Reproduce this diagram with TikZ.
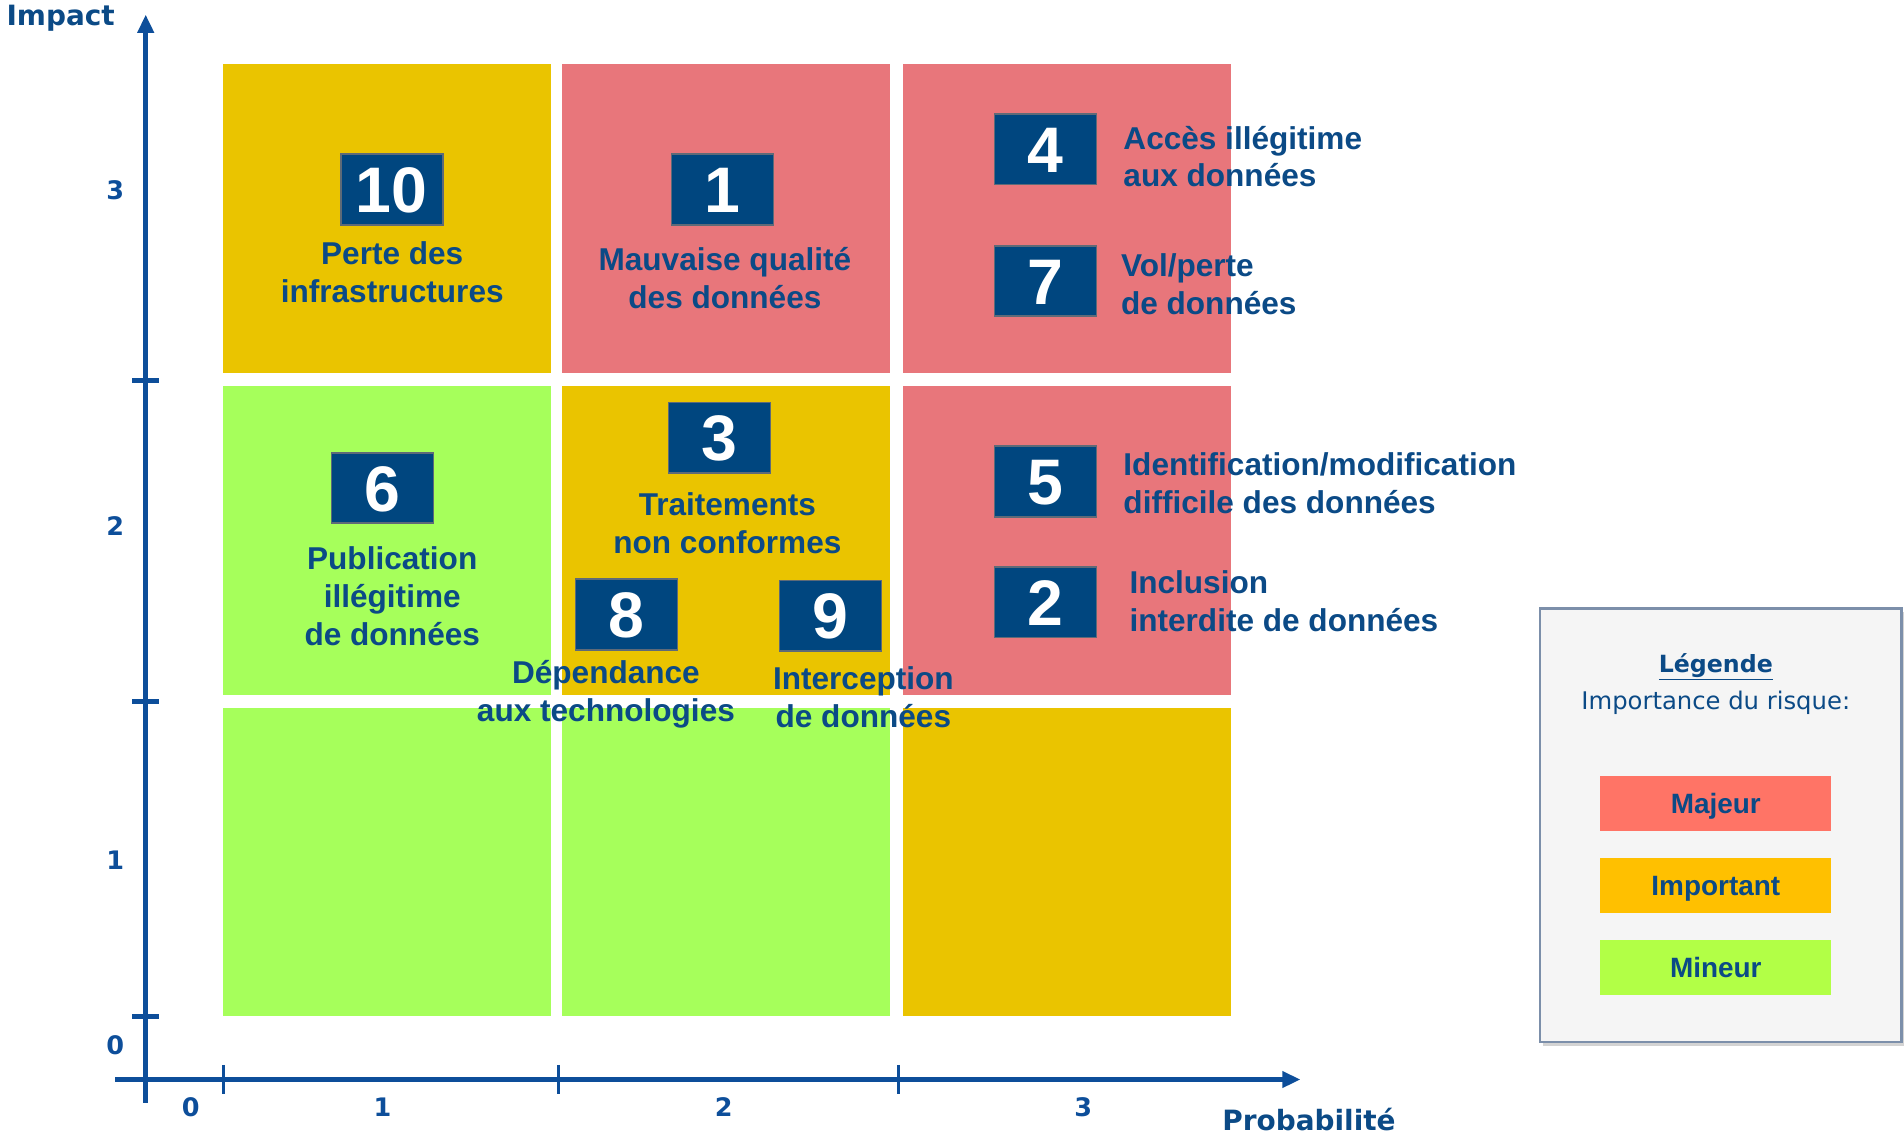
\documentclass[tikz,border=0pt]{standalone}
\usepackage{fontspec}
\setmainfont{Liberation Sans}
\newfontfamily\verdana{DejaVu Sans}
\usepackage{xcolor}
\usetikzlibrary{arrows.meta,positioning,shadows}

\definecolor{cellyellow}{HTML}{EAC400}
\definecolor{cellred}{HTML}{E8767B}
\definecolor{cellgreen}{HTML}{A6FF5B}
\definecolor{boxblue}{HTML}{00467F}
\definecolor{boxedge}{HTML}{5E6A78}
\definecolor{txtblue}{HTML}{0B4A86}
\definecolor{axisblue}{HTML}{0D4E9A}
\definecolor{legfill}{HTML}{F5F5F5}
\definecolor{legedge}{HTML}{7C8FAA}
\definecolor{majeur}{HTML}{FF7466}
\definecolor{important}{HTML}{FFC000}
\definecolor{mineur}{HTML}{B2FF46}

\begin{document}
\begin{tikzpicture}[x=1pt, y=-1pt,
  cell/.style={rectangle, inner sep=0pt, minimum width=270pt, minimum height=254pt},
  numbox/.style={rectangle, draw=boxedge, line width=1.5pt, fill=boxblue, text=white, minimum width=84pt, minimum height=58pt, inner sep=0pt, text height=38pt, text depth=0pt, font=\fontsize{53}{53}\selectfont\bfseries},
  risk/.style={text=txtblue, align=center, inner sep=0pt, font=\fontsize{26}{31}\selectfont\bfseries},
  riskleft/.style={risk, align=left, anchor=west},
  axis/.style={line width=4pt, draw=axisblue},
  ticklbl/.style={text=axisblue, inner sep=0pt, font=\verdana\fontsize{21}{21}\selectfont\bfseries},
  axtitle/.style={text=txtblue, inner sep=0pt, font=\verdana\fontsize{23}{23}\selectfont\bfseries},
  swatch/.style={rectangle, inner sep=0pt, minimum width=190pt, minimum height=45pt, text height=16.5pt, text depth=0pt, text=txtblue, font=\fontsize{23}{23}\selectfont\bfseries}
]
\useasboundingbox (0,0) rectangle (1568,935);

% Cells of the matrix
\foreach \cx/\cy/\col [count=\i] in {318.5/180/cellyellow, 598/180/cellred, 879/180/cellred,
    318.5/445/cellgreen, 598/445/cellyellow, 879/445/cellred,
    318.5/710/cellgreen, 598/710/cellgreen, 879/710/cellyellow}
  \node[cell, fill=\col] (cell\i) at (\cx,\cy) {};

% Axes
\coordinate (ybot) at (120,908);
\coordinate (ytop) at (120,12);
\coordinate (xleft) at (95,889);
\coordinate (xend) at (1071,889);
\draw[axis, -{Triangle[length=15pt,width=13pt]}] (ybot) -- (ytop);
\draw[axis, -{Triangle[length=15pt,width=13pt]}] (xleft) -- (xend);
\foreach \ty in {313,578,837} {
  \draw[axis] (109,\ty) -- (131,\ty);
}
\foreach \tx in {184,460,740} {
  \draw[axisblue, line width=2.5pt] (\tx,877) -- (\tx,901);
}

% Axis labels
\node[axtitle] (impact) at (50,15) {Impact};
\node[axtitle] (proba) at (1078,922) {Probabilité};
\node[ticklbl] (y3) at (95,157) {3};
\node[ticklbl] (y2) at (95,433) {2};
\node[ticklbl] (y1) at (95,708) {1};
\node[ticklbl] (y0) at (95,861) {0};
\node[ticklbl] (x0) at (157,912) {0};
\node[ticklbl] (x1) at (315,912) {1};
\node[ticklbl] (x2) at (596,912) {2};
\node[ticklbl] (x3) at (892,912) {3};

% Risks
\node[numbox] (r10) at (322.5,156) {10};
\node[risk] (l10) at (323,224) {Perte des\\infrastructures};
\node[numbox] (r1) at (595,156) {1};
\node[risk] (l1) at (597,229) {Mauvaise qualité\\des données};
\node[numbox] (r4) at (861,123) {4};
\node[riskleft] (l4) at (925,129) {Accès illégitime\\aux données};
\node[numbox] (r7) at (861,231.5) {7};
\node[riskleft] (l7) at (923,234) {Vol/perte\\de données};
\node[numbox] (r6) at (315,402) {6};
\node[risk] (l6) at (323,491) {Publication\\illégitime\\de données};
\node[numbox] (r3) at (592.5,360.5) {3};
\node[risk] (l3) at (599,431) {Traitements\\non conformes};
\node[numbox] (r5) at (861,396.5) {5};
\node[riskleft] (l5) at (925,398) {Identification/modification\\difficile des données};
\node[numbox] (r2) at (861,496) {2};
\node[riskleft] (l2) at (930,495) {Inclusion\\interdite de données};
\node[numbox] (r8) at (516,506) {8};
\node[risk] (l8) at (499,572) {Dépendance\\aux technologies};
\node[numbox] (r9) at (684,507) {9};
\node[risk] (l9) at (711,574) {Interception\\de données};

% Legend
\node[rectangle, draw=legedge, line width=2pt, fill=legfill, minimum width=298pt, minimum height=357pt,
  drop shadow={shadow xshift=3pt, shadow yshift=-3pt, opacity=0.35}] (legend) at (1417,679.5) {};
\node[text=txtblue, inner sep=0pt, font=\verdana\fontsize{19.5}{19.5}\selectfont\bfseries] (legtitle) at (1413,549) {\underline{Légende}};
\node[text=txtblue, inner sep=0pt, font=\verdana\fontsize{20}{20}\selectfont] (legsub) at (1413,579) {Importance du risque:};
\node[swatch, fill=majeur] (sMaj) at (1413,661.5) {Majeur};
\node[swatch, fill=important] (sImp) at (1413,729) {Important};
\node[swatch, fill=mineur] (sMin) at (1413,796.5) {Mineur};

\end{tikzpicture}
\end{document}
